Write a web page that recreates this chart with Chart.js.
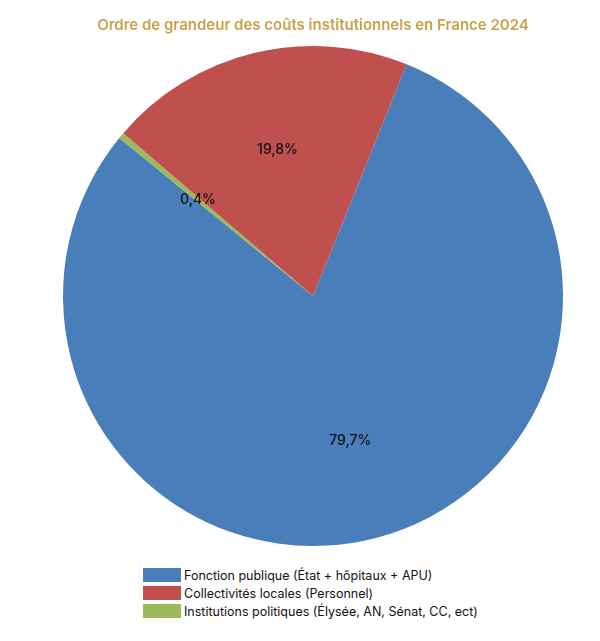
<!DOCTYPE html>
<html><head><meta charset="utf-8">
<script src="https://cdn.jsdelivr.net/npm/chart.js@4"></script>
<style>
body{margin:0;background:#fff;font-family:Inter,sans-serif;}
#wrap{position:relative;width:600px;height:560px;}
#legend{position:absolute;left:143px;top:566px;font-size:12.5px;color:#111;}
.it{display:flex;align-items:center;height:18px;}
.bx{width:38px;height:14px;margin-right:3px;}
</style></head><body>
<div id="wrap"><canvas id="c"></canvas></div>
<div id="legend"></div>
<script>
const categories=["Fonction publique (État + hôpitaux + APU)","Institutions politiques (Élysée, AN, Sénat, CC, ect)","Collectivités locales (Personnel)"];
const values=[79.7,0.4,19.8];
const colors=["#4a7ebb","#9bbb59","#c0504d"];
const legendOrder=[0,2,1];
const pctLabels=["79,7%","0,4%","19,8%"];
const lab={id:'lab',afterDatasetsDraw(ch){const c=ch.ctx;const m=ch.getDatasetMeta(0);
c.save();c.font='500 14px Inter';c.fillStyle='#111';c.textAlign='center';c.textBaseline='middle';
m.data.forEach((a,i)=>{const p=a.getProps(['x','y','startAngle','endAngle','outerRadius'],true);
const ang=(p.startAngle+p.endAngle)/2;const r=p.outerRadius*0.6;
c.fillText(pctLabels[i],p.x+Math.cos(ang)*r,p.y+Math.sin(ang)*r);});c.restore();}};
new Chart(document.getElementById('c'),{type:'pie',
data:{labels:categories,datasets:[{data:values,backgroundColor:colors,borderWidth:0}]},
options:{responsive:true,maintainAspectRatio:false,animation:false,rotation:22,
layout:{padding:{top:4,bottom:14,left:26}},
plugins:{legend:{display:false},tooltip:{enabled:false},
title:{display:true,text:"Ordre de grandeur des coûts institutionnels en France 2024",color:'#c9a24a',font:{family:'Inter',size:15,weight:'600'},padding:{top:12,bottom:12}}}},
plugins:[lab]});
const L=document.getElementById('legend');
legendOrder.forEach(i=>{const d=document.createElement('div');d.className='it';
d.innerHTML='<span class="bx" style="background:'+colors[i]+'"></span>'+categories[i];L.appendChild(d);});
</script></body></html>
